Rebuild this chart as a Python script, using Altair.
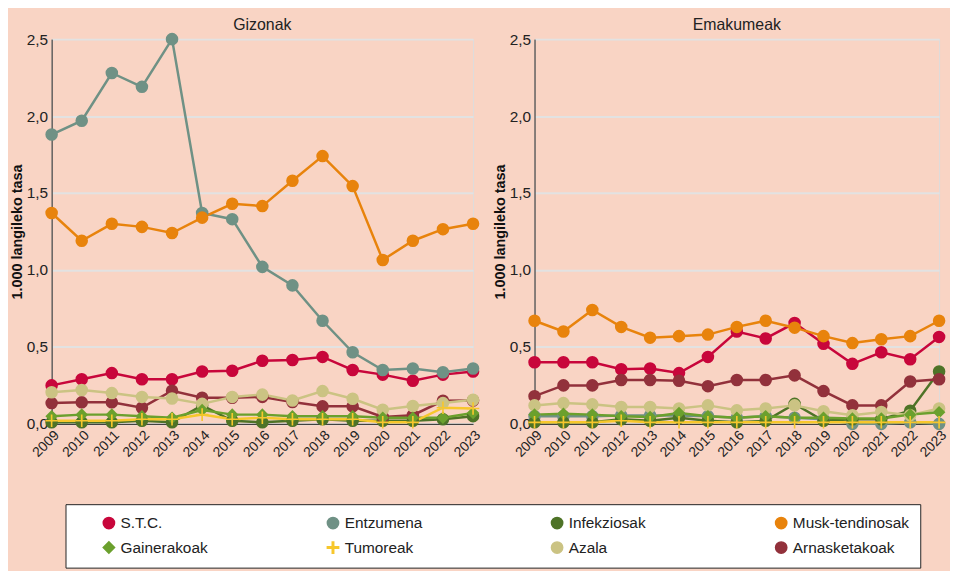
import altair as alt
import pandas as pd

years = list(range(2009, 2024))

series_order = ["S.T.C.", "Entzumena", "Infekziosak", "Musk-tendinosak",
                "Gainerakoak", "Tumoreak", "Azala", "Arnasketakoak"]
draw_order = ["S.T.C.", "Entzumena", "Infekziosak", "Arnasketakoak",
              "Azala", "Gainerakoak", "Musk-tendinosak", "Tumoreak"]
colors = ["#c8063b", "#6f9185", "#4e7327", "#e8830c",
          "#6ba02d", "#f7c72c", "#cbc383", "#92313b"]
plus_path = ("M-1,-0.13L-0.13,-0.13L-0.13,-1L0.13,-1L0.13,-0.13L1,-0.13L1,0.13"
             "L0.13,0.13L0.13,1L-0.13,1L-0.13,0.13L-1,0.13Z")
shapes = ["circle", "circle", "circle", "circle", "diamond", plus_path, "circle", "circle"]

# Gizonak (men)
stc_m = [0.25, 0.29, 0.33, 0.29, 0.29, 0.34, 0.345, 0.41, 0.415, 0.435, 0.35, 0.32, 0.28, 0.32, 0.34]
entz_m = [1.88, 1.97, 2.28, 2.19, 2.50, 1.37, 1.33, 1.02, 0.90, 0.67, 0.465, 0.35, 0.36, 0.335, 0.36]
infek_m = [0.01, 0.01, 0.01, 0.02, 0.01, 0.12, 0.02, 0.01, 0.02, 0.03, 0.02, 0.02, 0.02, 0.03, 0.05]
musk_m = [1.37, 1.19, 1.30, 1.28, 1.24, 1.34, 1.43, 1.415, 1.58, 1.74, 1.545, 1.065, 1.19, 1.265, 1.30]
gain_m = [0.05, 0.06, 0.06, 0.05, 0.04, 0.09, 0.06, 0.06, 0.05, 0.05, 0.05, 0.04, 0.04, 0.04, 0.07]
tum_m = [0.02, 0.02, 0.02, 0.03, 0.03, 0.06, 0.03, 0.04, 0.03, 0.03, 0.03, 0.01, 0.01, 0.105, 0.10]
azala_m = [0.205, 0.22, 0.20, 0.175, 0.165, 0.13, 0.175, 0.19, 0.152, 0.213, 0.163, 0.092, 0.116, 0.135, 0.157]
arn_m = [0.135, 0.14, 0.14, 0.105, 0.215, 0.17, 0.17, 0.175, 0.142, 0.114, 0.114, 0.045, 0.056, 0.15, 0.152]

# Emakumeak (women)
stc_f = [0.40, 0.40, 0.40, 0.355, 0.36, 0.33, 0.435, 0.60, 0.555, 0.655, 0.52, 0.39, 0.465, 0.42, 0.565]
entz_f = [0.05, 0.05, 0.05, 0.055, 0.055, 0.055, 0.05, 0.04, 0.05, 0.04, 0.03, 0.0, 0.0, 0.01, 0.0]
infek_f = [0.01, 0.01, 0.01, 0.03, 0.02, 0.04, 0.02, 0.01, 0.02, 0.13, 0.02, 0.03, 0.03, 0.085, 0.34]
musk_f = [0.67, 0.60, 0.74, 0.63, 0.56, 0.57, 0.58, 0.63, 0.67, 0.625, 0.57, 0.525, 0.55, 0.57, 0.67]
gain_f = [0.06, 0.065, 0.06, 0.05, 0.045, 0.07, 0.05, 0.04, 0.05, 0.04, 0.04, 0.035, 0.035, 0.06, 0.075]
tum_f = [0.01, 0.01, 0.01, 0.02, 0.01, 0.01, 0.01, 0.01, 0.01, 0.01, 0.01, 0.01, 0.01, 0.01, 0.01]
azala_f = [0.12, 0.135, 0.127, 0.11, 0.11, 0.10, 0.12, 0.088, 0.10, 0.12, 0.082, 0.056, 0.077, 0.056, 0.10]
arn_f = [0.18, 0.25, 0.25, 0.285, 0.285, 0.28, 0.245, 0.285, 0.285, 0.315, 0.213, 0.12, 0.12, 0.275, 0.29]

men = {"S.T.C.": stc_m, "Entzumena": entz_m, "Infekziosak": infek_m, "Musk-tendinosak": musk_m,
       "Gainerakoak": gain_m, "Tumoreak": tum_m, "Azala": azala_m, "Arnasketakoak": arn_m}
women = {"S.T.C.": stc_f, "Entzumena": entz_f, "Infekziosak": infek_f, "Musk-tendinosak": musk_f,
         "Gainerakoak": gain_f, "Tumoreak": tum_f, "Azala": azala_f, "Arnasketakoak": arn_f}


def frame(d):
    rows = []
    for s in draw_order:
        for y, v in zip(years, d[s]):
            rows.append({"year": y, "value": v, "series": s})
    return pd.DataFrame(rows)


FONT = "Liberation Sans"

color = alt.Color("series:N", scale=alt.Scale(domain=series_order, range=colors), title=None,
                  legend=alt.Legend(orient="none", legendX=14, legendY=469, columns=4,
                                    direction="horizontal",
                                    fillColor="white", strokeColor="#222", padding=11,
                                    labelFontSize=15.5, labelFont=FONT, symbolOffset=25,
                                    labelColor="#222", symbolSize=130, columnPadding=64,
                                    rowPadding=7, gridAlign="all", labelLimit=220))
shape = alt.Shape("series:N", scale=alt.Scale(domain=series_order, range=shapes), title=None)


def panel(d, title, w):
    df = frame(d)
    base = alt.Chart(df).encode(
        x=alt.X("year:Q", scale=alt.Scale(domain=[2009, 2023], nice=False, zero=False),
                axis=alt.Axis(values=years, format="d", labelAngle=-45, title=None,
                              labelOverlap=False, labelFlush=False,
                              grid=False, ticks=False, labelFontSize=14, labelPadding=4,
                              domainColor="#222", labelColor="#222")),
        y=alt.Y("value:Q", scale=alt.Scale(domain=[0, 2.5], nice=False),
                axis=alt.Axis(values=[0, 0.5, 1, 1.5, 2, 2.5],
                              labelExpr="replace(format(datum.value, '.1f'), '.', ',')",
                              title="1.000 langileko tasa", titleFontSize=14.5, titleFontWeight="bold",
                              titleColor="#111", titlePadding=2, labelFontSize=15.5, labelColor="#222",
                              ticks=False, domainColor="#222", gridColor="#e2e2e2", gridWidth=2,
                              labelPadding=4)),
        color=color,
    )
    lines = base.mark_line(strokeWidth=2.5)
    pts = base.mark_point(filled=True, opacity=1, size=160).encode(shape=shape)
    return alt.layer(lines, pts).properties(
        width=w, height=388,
        title=alt.TitleParams(title, fontSize=16, fontWeight="normal", color="#222", font=FONT, offset=-1),
    )


chart = alt.hconcat(panel(men, "Gizonak", 425), panel(women, "Emakumeak", 408), spacing=7).properties(
    background="#f9d4c4", padding={"left": 0, "top": 6, "right": 0, "bottom": 0}
).configure_view(fill="white", stroke="#222", strokeWidth=1.5).configure(font=FONT)

chart.save("out.html", embed_options={"renderer": "svg", "actions": False})
